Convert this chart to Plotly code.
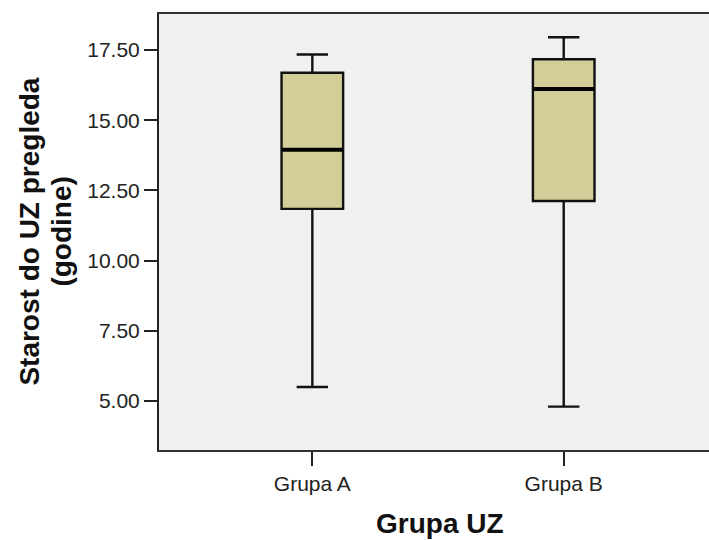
import plotly.graph_objects as go

categories = ["Grupa A", "Grupa B"]
positions = [0, 1]
lower_whisker = [5.50, 4.80]
q1 = [11.84, 12.12]
median = [13.95, 16.11]
q3 = [16.69, 17.17]
upper_whisker = [17.34, 17.95]

y_ticks = [5.0, 7.5, 10.0, 12.5, 15.0, 17.5]
x_title = "Grupa UZ"
y_title_lines = ["Starost do UZ pregleda", "(godine)"]

BOX_W = 0.245
FILL = "#D3CE97"
BG = "#F0F0F0"
FONT = "Liberation Sans, Arial, sans-serif"

fig = go.Figure()
fig.add_trace(go.Box(
    x=positions, q1=q1, median=median, q3=q3,
    lowerfence=lower_whisker, upperfence=upper_whisker,
    width=BOX_W, whiskerwidth=0.51,
    fillcolor=FILL, line=dict(color="#111111", width=2.4),
    boxpoints=False, hoverinfo="skip", showlegend=False,
))

mx, my = [], []
for p, m in zip(positions, median):
    mx += [p - BOX_W / 2, p + BOX_W / 2, None]
    my += [m, m, None]
fig.add_trace(go.Scatter(x=mx, y=my, mode="lines",
                         line=dict(color="#000000", width=4),
                         hoverinfo="skip", showlegend=False))

fig.update_layout(
    width=709, height=540,
    margin=dict(l=159, r=0, t=14, b=90),
    paper_bgcolor="white", plot_bgcolor=BG,
    font=dict(family=FONT, size=21, color="#222222"),
    showlegend=False,
)
fig.update_xaxes(
    range=[-0.61, 1.578], tickvals=positions, ticktext=categories,
    ticks="outside", ticklen=14, tickwidth=2, tickcolor="#222222",
    showline=True, linecolor="#333333", linewidth=2, mirror=True,
    showgrid=False, zeroline=False,
    tickfont=dict(family=FONT, size=21, color="#222222"),
)
fig.update_yaxes(
    range=[3.255, 18.78], tickvals=y_ticks, tickformat=".2f",
    ticks="outside", ticklen=13, tickwidth=2, tickcolor="#222222",
    showline=True, linecolor="#222222", linewidth=2, mirror=False,
    showgrid=False, zeroline=False,
    tickfont=dict(family=FONT, size=21, color="#222222"),
)

fig.add_annotation(text=x_title, xref="paper", yref="paper",
                   x=0.511, y=-0.1688, xanchor="center", yanchor="middle",
                   showarrow=False,
                   font=dict(family=FONT, size=28, color="#111111", weight="bold"))
for xp, line in zip([-0.2371, -0.1789], y_title_lines):
    fig.add_annotation(text=line, xref="paper", yref="paper",
                       x=xp, y=0.5, xanchor="center", yanchor="middle",
                       textangle=-90, showarrow=False,
                       font=dict(family=FONT, size=28, color="#111111", weight="bold"))

fig.write_html(
    "out.html",
    config={"displayModeBar": False},
    post_script="document.body.style.margin='0';document.body.style.overflow='hidden';",
)
